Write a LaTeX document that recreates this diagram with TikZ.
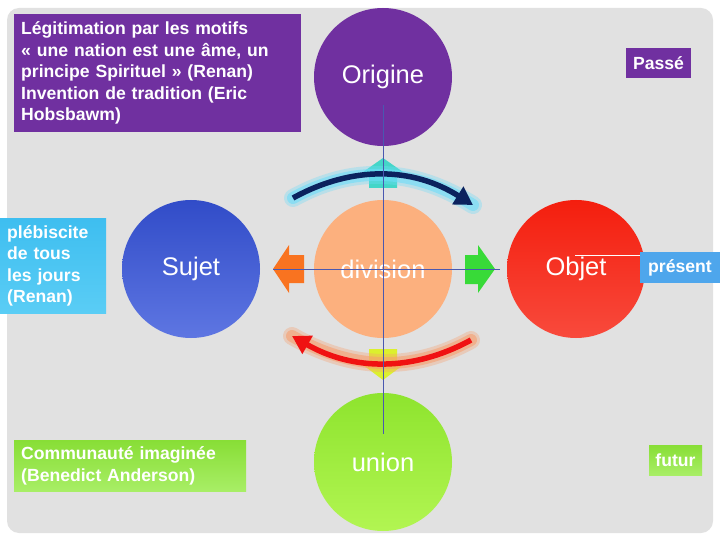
\documentclass[tikz,border=0pt]{standalone}
\usepackage{fontspec}
\setmainfont{Liberation Sans}
\usetikzlibrary{arrows.meta}
\definecolor{bggray}{HTML}{E1E1E1}
\definecolor{purp}{HTML}{7030A0}
\definecolor{sujtop}{HTML}{314CC8}
\definecolor{sujbot}{HTML}{5E76E2}
\definecolor{peach}{HTML}{FCB07E}
\definecolor{objtop}{HTML}{F41E0E}
\definecolor{objbot}{HTML}{F84A3C}
\definecolor{uniontop}{HTML}{8EE42E}
\definecolor{unionbot}{HTML}{B2F552}
\definecolor{plebtop}{HTML}{3EBEF0}
\definecolor{plebbot}{HTML}{5ACDF5}
\definecolor{presblue}{HTML}{4EA6EC}
\definecolor{commtop}{HTML}{88DE36}
\definecolor{commbot}{HTML}{A8EE66}
\definecolor{guideblue}{HTML}{4A58B0}
\definecolor{navy}{HTML}{0B225E}
\definecolor{glowcyan}{HTML}{6FDDF8}
\definecolor{arcred}{HTML}{F01212}
\definecolor{glowred}{HTML}{F6A070}
\definecolor{orangearr}{HTML}{F97320}
\definecolor{greenarr}{HTML}{38DA38}
\definecolor{tealarr}{HTML}{44D6C8}
\definecolor{yellarr}{HTML}{DCF02E}
\begin{document}
\begin{tikzpicture}[x=1pt,y=-1pt,
  ball/.style={circle,minimum size=138pt,inner sep=0pt,text=white,font=\fontsize{25.5}{30}\selectfont},
  boxtxt/.style={text=white,font=\bfseries\fontsize{17.6}{21.5}\selectfont,align=left,inner ysep=0pt},
  smallbox/.style={text=white,font=\bfseries\fontsize{17.6}{21.5}\selectfont,inner sep=0pt},
  guide/.style={draw=guideblue,line width=0.8pt},
  blockarrow/.style={draw=none}
]
\useasboundingbox (0,0) rectangle (720,540);
\fill[white] (0,0) rectangle (720,540);
\fill[bggray, rounded corners=12pt] (7,8) rectangle (713,533);

% block arrows
\fill[blockarrow,tealarr] (383,158) -- (403,172) -- (397,172) -- (397,188) -- (369,188) -- (369,172) -- (363,172) -- cycle;
\fill[blockarrow,yellarr] (369,349) -- (397,349) -- (397,365) -- (403,365) -- (383,380) -- (363,365) -- (369,365) -- cycle;
\fill[blockarrow,orangearr] (273,269) -- (289,245) -- (289,255) -- (304,255) -- (304,283) -- (289,283) -- (289,293) -- cycle;
\fill[blockarrow,greenarr] (495,269) -- (478,245) -- (478,255) -- (465,255) -- (465,284) -- (478,284) -- (478,293) -- cycle;

% circles
\node[ball,fill=purp] (origine) at (383,77) {Origine};
\node[ball,top color=sujtop,bottom color=sujbot] (sujet) at (191,269) {Sujet};
\node[ball,fill=peach] (division) at (383,269) {division};
\node[ball,top color=objtop,bottom color=objbot] (objet) at (576,269) {Objet};
\node[ball,top color=uniontop,bottom color=unionbot] (union) at (383,462) {union};

% text boxes
\node[boxtxt,fill=purp,anchor=north west,minimum width=287pt,minimum height=118pt,text width=273pt,inner xsep=7pt] (legit) at (14,14)
  {Légitimation par les motifs\\« une nation est une âme, un\\principe Spirituel » (Renan)\\Invention de tradition (Eric\\Hobsbawm)};
\node[boxtxt,top color=plebtop,bottom color=plebbot,anchor=north west,minimum width=106pt,minimum height=95pt,text width=92pt,inner xsep=7pt] (pleb) at (0,218)
  {plébiscite\\de tous\\les jours\\(Renan)};
\node[boxtxt,top color=commtop,bottom color=commbot,anchor=north west,minimum width=232pt,minimum height=51pt,text width=218pt,inner xsep=7pt] (comm) at (14,440)
  {Communauté imaginée\\(Benedict Anderson)};
\node[smallbox,fill=purp,minimum width=65pt,minimum height=30pt] (passe) at (658.5,63) {Passé};
\node[smallbox,fill=presblue,minimum width=80pt,minimum height=31pt] (present) at (680,267.5) {présent};
\node[smallbox,top color=commtop,bottom color=commbot,minimum width=53pt,minimum height=30pt] (futur) at (675.5,460) {futur};

% curved arrows with glow
\coordinate (navS) at (293,198);
\coordinate (navE) at (473,205);
\coordinate (redS) at (471,340);
\coordinate (redE) at (292,336);
\draw[glowcyan,opacity=0.35,line width=18pt,line cap=round] (navS) .. controls (353,165) and (413,167.3) .. (navE);
\draw[glowcyan,opacity=0.6,line width=12pt,line cap=round] (navS) .. controls (353,165) and (413,167.3) .. (navE);
\draw[navy,line width=5.5pt,-{Triangle[length=18pt,width=20pt]}] (navS) .. controls (353,165) and (413,167.3) .. (navE);
\draw[glowred,opacity=0.35,line width=18pt,line cap=round] (redS) .. controls (412.3,372) and (352.7,370.7) .. (redE);
\draw[glowred,opacity=0.6,line width=12pt,line cap=round] (redS) .. controls (412.3,372) and (352.7,370.7) .. (redE);
\draw[arcred,line width=5.5pt,-{Triangle[length=18pt,width=20pt]}] (redS) .. controls (412.3,372) and (352.7,370.7) .. (redE);

% guide lines
\coordinate (vtop) at (383,105);
\coordinate (vbot) at (383,434);
\coordinate (hleft) at (273,269);
\coordinate (hright) at (500,269);
\draw[guide] (vtop) -- (vbot);
\draw[guide] (hleft) -- (hright);
\coordinate (objline) at (575,255);
\draw[white,line width=0.8pt] (objline) -- (present.west |- objline);
\end{tikzpicture}
\end{document}
